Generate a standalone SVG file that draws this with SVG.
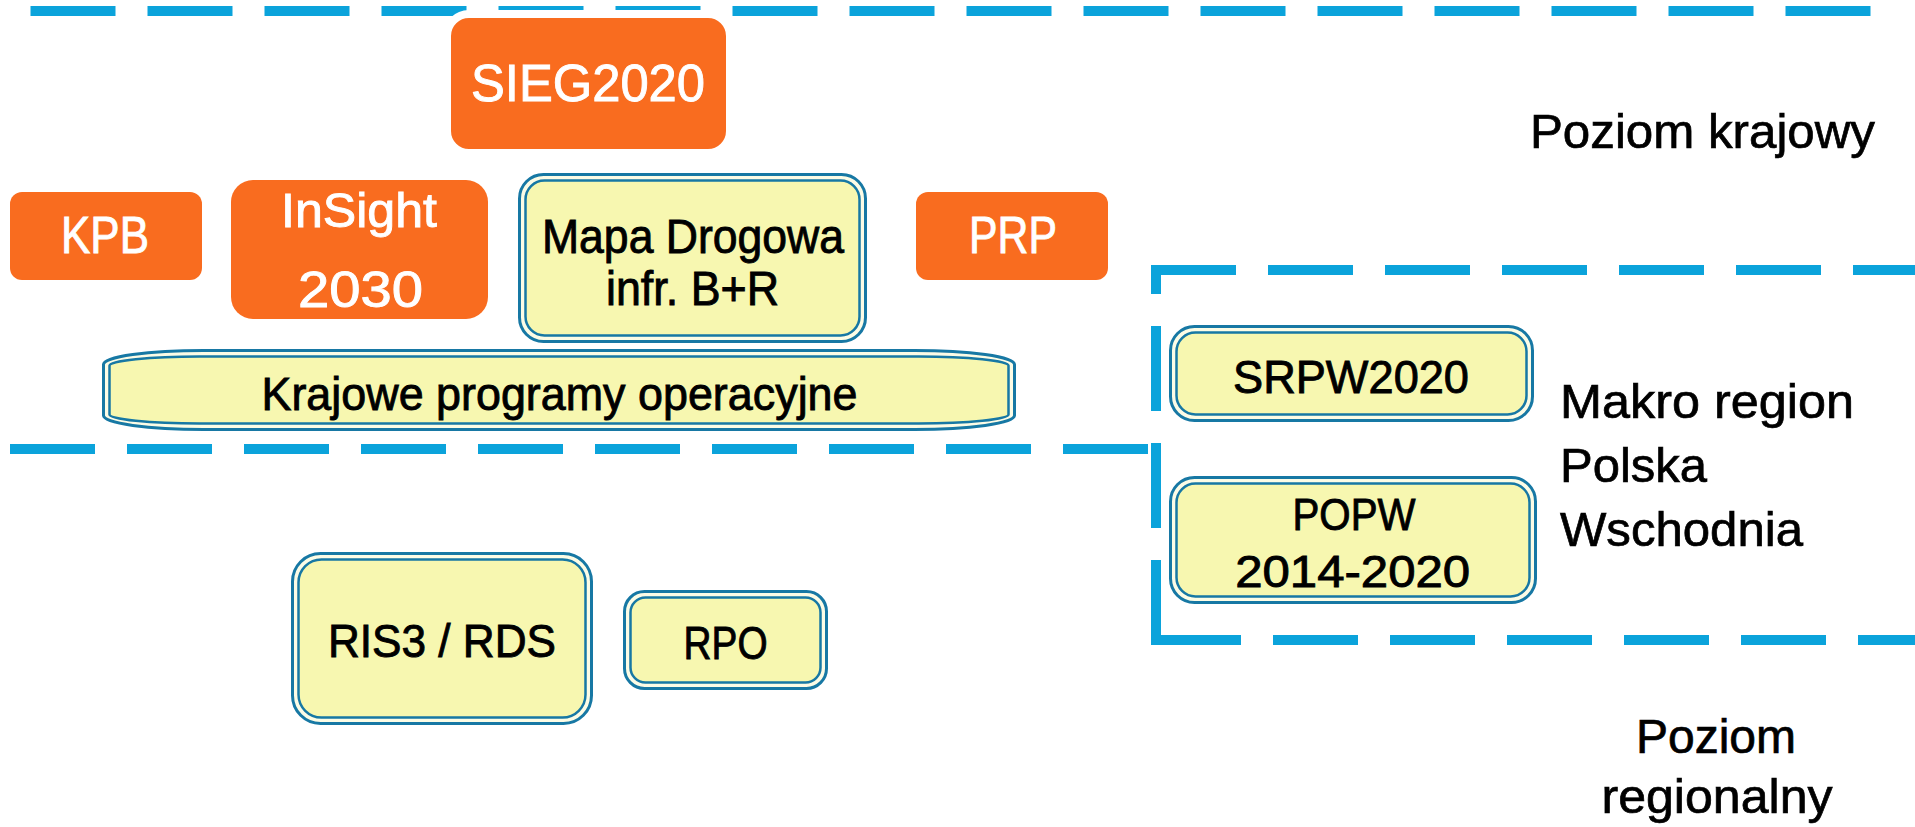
<svg xmlns="http://www.w3.org/2000/svg" width="1915" height="827" viewBox="0 0 1915 827">
<style>
.dash{stroke:#0BA3DB;stroke-width:10;fill:none;stroke-dasharray:85 32}
.org{fill:#F96C1F}
.ot{fill:#FFFFFF;stroke:#FFFFFF;stroke-width:0.9;font-family:"Liberation Sans",Arial,sans-serif;text-anchor:middle}
.bt{fill:#000000;stroke:#000000;stroke-width:0.9;font-family:"Liberation Sans",Arial,sans-serif;text-anchor:middle}
.lt{fill:#000000;stroke:#000000;stroke-width:0.7;font-family:"Liberation Sans",Arial,sans-serif}
.o1{fill:#FCFCE6;stroke:#1778A4;stroke-width:3}
.o2{fill:#F7F7B0;stroke:#1778A4;stroke-width:2.5}
</style>
<rect width="1915" height="827" fill="#FFFFFF"/>
<g id="connectors">
<line class="dash" x1="30.5" y1="11" x2="1875" y2="11"/>
<line class="dash" x1="10" y1="449" x2="1151" y2="449"/>
<line class="dash" x1="1151" y1="270" x2="1915" y2="270"/>
<line class="dash" x1="1156" y1="645" x2="1156" y2="265"/>
<line class="dash" x1="1156" y1="640" x2="1915" y2="640"/>
</g>
<g id="sieg2020">
<rect class="org" x="447" y="14" width="283" height="139" rx="22" stroke="#FFFFFF" stroke-width="8"/>
<text class="ot" x="588" y="101" font-size="52" textLength="234" lengthAdjust="spacingAndGlyphs">SIEG2020</text>
</g>
<g id="kpb">
<rect class="org" x="10" y="192" width="192" height="88" rx="12"/>
<text class="ot" x="105" y="253" font-size="51" textLength="88" lengthAdjust="spacingAndGlyphs">KPB</text>
</g>
<g id="insight">
<rect class="org" x="231" y="180" width="257" height="139" rx="22"/>
<text class="ot" x="359" y="227" font-size="49" textLength="156" lengthAdjust="spacingAndGlyphs">InSight</text>
<text class="ot" x="360.5" y="307" font-size="50" textLength="125" lengthAdjust="spacingAndGlyphs">2030</text>
</g>
<g id="prp">
<rect class="org" x="916" y="192" width="192" height="88" rx="12"/>
<text class="ot" x="1013" y="253" font-size="51" textLength="88" lengthAdjust="spacingAndGlyphs">PRP</text>
</g>
<g id="mapa">
<rect class="o1" x="519.5" y="174.5" width="346" height="167" rx="24"/>
<rect class="o2" x="525.5" y="180.5" width="334" height="155" rx="19"/>
<text class="bt" x="693" y="253" font-size="49" textLength="302" lengthAdjust="spacingAndGlyphs">Mapa Drogowa</text>
<text class="bt" x="692.5" y="305" font-size="49" textLength="173" lengthAdjust="spacingAndGlyphs">infr. B+R</text>
</g>
<g id="krajowe">
<rect class="o1" x="103.5" y="350.5" width="911" height="79" rx="100" ry="14"/>
<rect class="o2" x="109.5" y="356.5" width="899" height="67" rx="90" ry="9"/>
<text class="bt" x="559.5" y="410" font-size="47" textLength="596" lengthAdjust="spacingAndGlyphs">Krajowe programy operacyjne</text>
</g>
<g id="srpw2020">
<rect class="o1" x="1170.5" y="326.5" width="362" height="94" rx="24"/>
<rect class="o2" x="1176.5" y="332.5" width="350" height="82" rx="19"/>
<text class="bt" x="1351" y="393" font-size="46" textLength="236" lengthAdjust="spacingAndGlyphs">SRPW2020</text>
</g>
<g id="popw">
<rect class="o1" x="1170.5" y="477.5" width="365" height="125" rx="24"/>
<rect class="o2" x="1176.5" y="483.5" width="353" height="113" rx="19"/>
<text class="bt" x="1354" y="530" font-size="45" textLength="123" lengthAdjust="spacingAndGlyphs">POPW</text>
<text class="bt" x="1352.7" y="587" font-size="45" textLength="235" lengthAdjust="spacingAndGlyphs">2014-2020</text>
</g>
<g id="ris3">
<rect class="o1" x="292.5" y="553.5" width="299" height="170" rx="28"/>
<rect class="o2" x="298.5" y="559.5" width="287" height="158" rx="23"/>
<text class="bt" x="442" y="657" font-size="46" textLength="228" lengthAdjust="spacingAndGlyphs">RIS3 / RDS</text>
</g>
<g id="rpo">
<rect class="o1" x="624.5" y="591.5" width="202" height="97" rx="20"/>
<rect class="o2" x="630.5" y="597.5" width="190" height="85" rx="15"/>
<text class="bt" x="725.6" y="659" font-size="46" textLength="84" lengthAdjust="spacingAndGlyphs">RPO</text>
</g>
<g id="labels">
<text class="lt" x="1875" y="148" font-size="49" text-anchor="end" textLength="345" lengthAdjust="spacingAndGlyphs">Poziom krajowy</text>
<text class="lt" x="1560" y="418" font-size="49" textLength="294" lengthAdjust="spacingAndGlyphs">Makro region</text>
<text class="lt" x="1560" y="482" font-size="49">Polska</text>
<text class="lt" x="1560" y="546" font-size="49" textLength="243" lengthAdjust="spacingAndGlyphs">Wschodnia</text>
<text class="lt" x="1716" y="753" font-size="48" text-anchor="middle" textLength="160" lengthAdjust="spacingAndGlyphs">Poziom</text>
<text class="lt" x="1717" y="813" font-size="48" text-anchor="middle" textLength="231" lengthAdjust="spacingAndGlyphs">regionalny</text>
</g>
</svg>
